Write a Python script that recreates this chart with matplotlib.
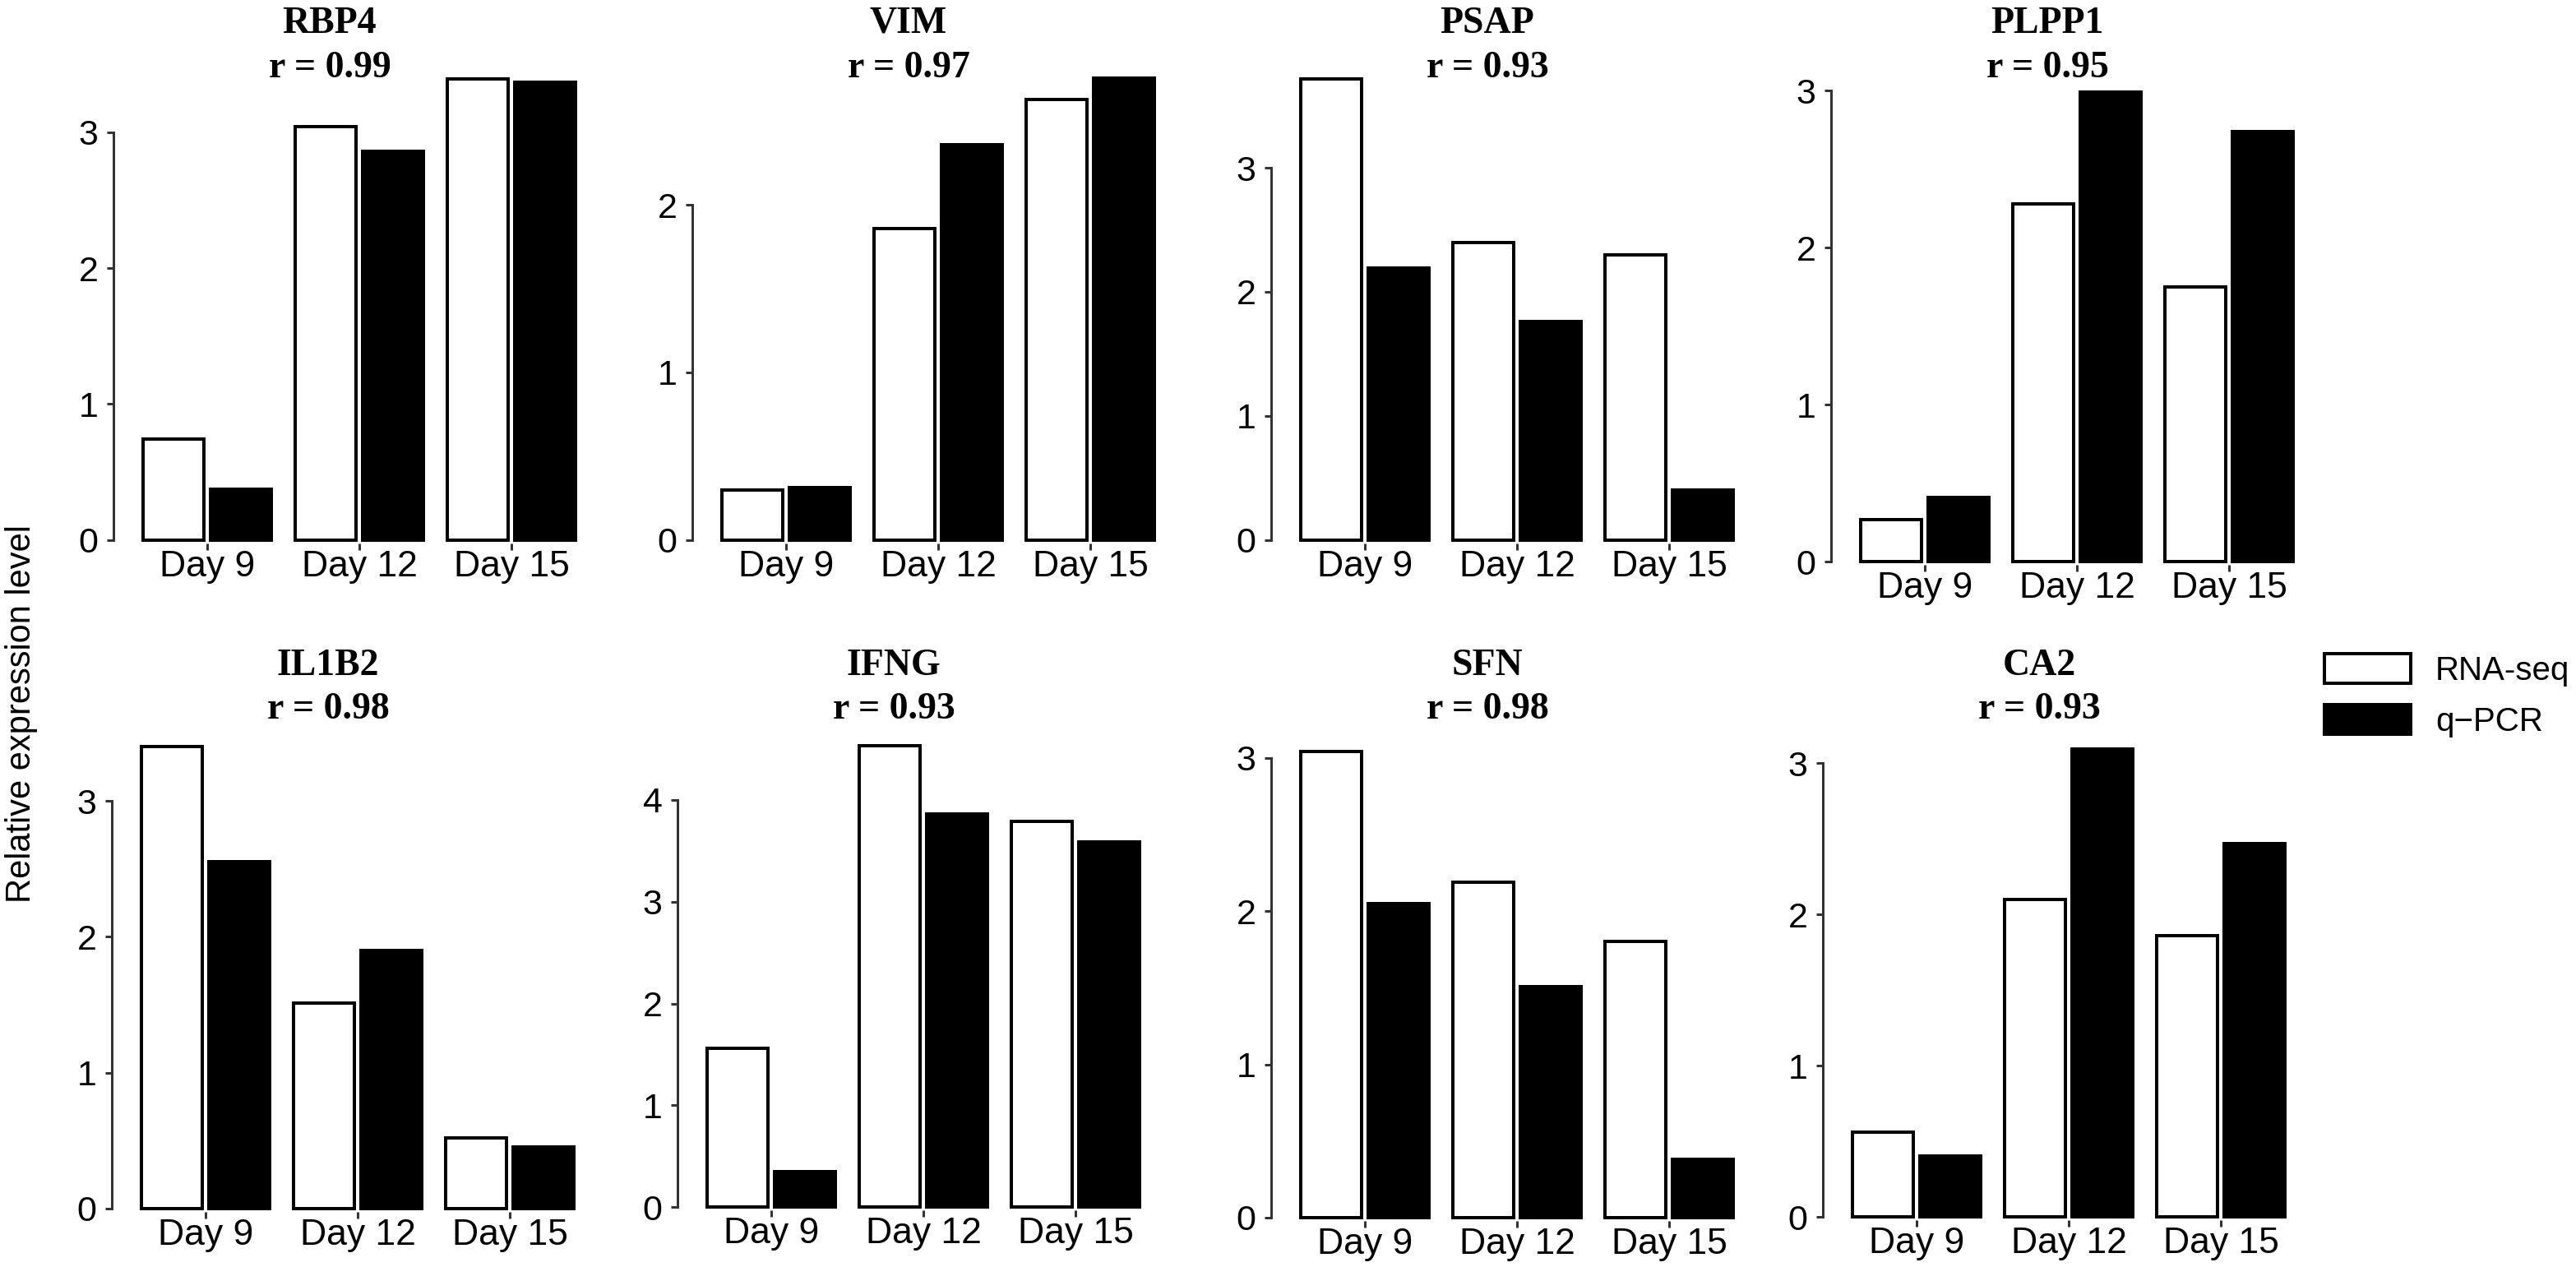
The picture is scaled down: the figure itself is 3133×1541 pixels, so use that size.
import matplotlib
matplotlib.use('Agg')
import matplotlib.pyplot as plt
from matplotlib.transforms import blended_transform_factory
import numpy as np

W, H, DPI = 3133, 1541, 100

# ---------------- data ----------------
genes = ['RBP4', 'VIM', 'PSAP', 'PLPP1', 'IL1B2', 'IFNG', 'SFN', 'CA2']
r_values = ['0.99', '0.97', '0.93', '0.95', '0.98', '0.93', '0.98', '0.93']
days = ['Day 9', 'Day 12', 'Day 15']
series_names = ['RNA-seq', 'q\u2212PCR']

rna_RBP4 = [0.74, 3.04, 3.39]
qpcr_RBP4 = [0.37, 2.86, 3.37]
rna_VIM = [0.30, 1.86, 2.63]
qpcr_VIM = [0.31, 2.36, 2.76]
rna_PSAP = [3.72, 2.40, 2.30]
qpcr_PSAP = [2.19, 1.76, 0.40]
rna_PLPP1 = [0.27, 2.28, 1.75]
qpcr_PLPP1 = [0.41, 2.99, 2.74]
rna_IL1B2 = [3.40, 1.51, 0.52]
qpcr_IL1B2 = [2.55, 1.90, 0.45]
rna_IFNG = [1.56, 4.53, 3.79]
qpcr_IFNG = [0.35, 3.86, 3.59]
rna_SFN = [3.04, 2.19, 1.80]
qpcr_SFN = [2.05, 1.51, 0.38]
rna_CA2 = [0.56, 2.10, 1.86]
qpcr_CA2 = [0.40, 3.09, 2.47]

rna_all = [rna_RBP4, rna_VIM, rna_PSAP, rna_PLPP1, rna_IL1B2, rna_IFNG, rna_SFN, rna_CA2]
qpcr_all = [qpcr_RBP4, qpcr_VIM, qpcr_PSAP, qpcr_PLPP1, qpcr_IL1B2, qpcr_IFNG, qpcr_SFN, qpcr_CA2]
y_max_ticks = [3, 2, 3, 3, 3, 4, 3, 3]

# ---------------- layout (pixels) ----------------
# (y-axis x position, y of zero line, pixels per unit, row)
panel_layout = [
    (138, 656.6, 165.3, 0),
    (842, 656.6, 203.6, 0),
    (1546, 656.6, 150.8, 0),
    (2227, 683.3, 191.0, 0),
    (136, 1469.7, 165.2, 1),
    (824, 1468.2, 123.8, 1),
    (1546, 1481.0, 186.4, 1),
    (2217, 1480.0, 184.0, 1),
]
title_baselines = [(40, 94), (821, 873.5)]

PITCH = 185.0
AX_OFF = 114.0
XR = 2.62

def pt(px):
    return px * 72.0 / DPI

sans = ['Liberation Sans', 'Arial', 'DejaVu Sans']
serif = ['Liberation Serif', 'Times New Roman', 'DejaVu Serif']
plt.rcParams['font.family'] = sans

fig = plt.figure(figsize=(W / DPI, H / DPI), dpi=DPI)
fig.patch.set_facecolor('white')

axis_col = '#333333'
handles = None
for i, g in enumerate(genes):
    ax_x, y0, ppu, row = panel_layout[i]
    rna = rna_all[i]
    qp = qpcr_all[i]
    xl = -AX_OFF / PITCH
    top = max(max(rna), max(qp)) * 1.03
    left = ax_x / W
    width = (XR - xl) * PITCH / W
    bottom = 1 - y0 / H
    height = top * ppu / H
    ax = fig.add_axes([left, bottom, width, height])
    ax.patch.set_alpha(0)
    x = np.arange(len(days))
    b1 = ax.bar(x - 0.224, rna, width=0.40, color='white', edgecolor='black',
                linewidth=pt(4), clip_on=False, label=series_names[0])
    b2 = ax.bar(x + 0.224, qp, width=0.40, color='black', edgecolor='black',
                linewidth=pt(4), clip_on=False, label=series_names[1])
    if handles is None:
        handles = [b1, b2]
    ax.set_xlim(xl, XR)
    ax.set_ylim(0, top)
    for s in ['top', 'right']:
        ax.spines[s].set_visible(False)
    ax.spines['bottom'].set_position(('outward', pt(4)))
    ax.spines['bottom'].set_color('none')
    ax.spines['left'].set_bounds(0, y_max_ticks[i])
    ax.spines['left'].set_color(axis_col)
    ax.spines['left'].set_linewidth(pt(3))
    ax.set_yticks(range(y_max_ticks[i] + 1))
    ax.set_yticklabels([str(v) for v in range(y_max_ticks[i] + 1)])
    ax.set_xticks(x)
    ax.set_xticklabels(days)
    ax.tick_params(axis='y', direction='out', length=pt(8), width=pt(3),
                   color=axis_col, pad=7.5, labelsize=31)
    ax.tick_params(axis='x', direction='out', length=pt(8), width=pt(3),
                   color=axis_col, pad=0, labelsize=32)
    tr = blended_transform_factory(ax.transData, fig.transFigure)
    tb = title_baselines[row]
    ax.text(1 - 36 / PITCH, 1 - tb[0] / H, g, transform=tr, ha='center',
            va='baseline', fontsize=33, fontweight='bold', family=serif)
    ax.text(1 - 36 / PITCH, 1 - tb[1] / H, 'r = ' + r_values[i], transform=tr,
            ha='center', va='baseline', fontsize=33, fontweight='bold', family=serif)

fig.text(26 / W, 1 - 868 / H, 'Relative expression level', rotation=90,
         ha='center', va='center', fontsize=30)

leg = fig.legend(handles, series_names, loc='upper left',
                 bbox_to_anchor=(2827 / W, 1 - 795 / H), frameon=False,
                 fontsize=29, handlelength=2.6, handleheight=1.0,
                 handletextpad=0.75, labelspacing=0.55, borderpad=0,
                 borderaxespad=0)

fig.savefig('out.png', dpi=DPI, facecolor='white')
